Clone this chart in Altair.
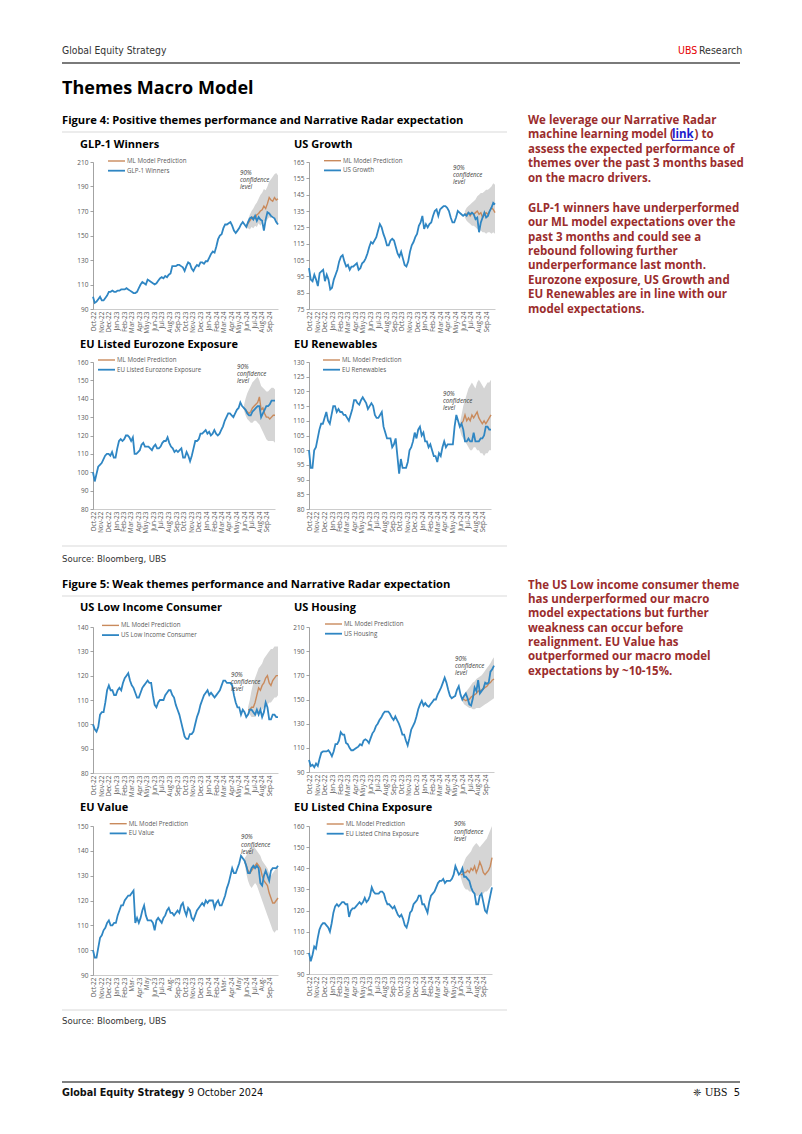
import altair as alt
import pandas as pd

# ---------------- data ----------------
week_start = "2022-09-30"
n_weeks = 106

month_labels = ["Oct-22", "Nov-22", "Dec-22", "Jan-23", "Feb-23", "Mar-23", "Apr-23", "May-23",
                "Jun-23", "Jul-23", "Aug-23", "Sep-23", "Oct-23", "Nov-23", "Dec-23", "Jan-24",
                "Feb-24", "Mar-24", "Apr-24", "May-24", "Jun-24", "Jul-24", "Aug-24", "Sep-24"]
eu_value_labels = ["Oct-22", "Nov-22", "Dec-22", "Jan-23", "Feb-23", "Mar-", "Apr-23", "May",
                   "Jun-23", "Jul-23", "Aug-", "Sep-23", "Oct-23", "Nov-23", "Dec-23", "Jan-24",
                   "Feb-24", "Mar-", "Apr-24", "May", "Jun-24", "Jul-24", "Aug-", "Sep-24"]

glp1_actual = [100, 95, 96, 98, 100, 97, 97, 99, 101, 104, 104, 105, 104, 104, 105, 105, 106, 106, 106, 107,
               106, 105, 104, 103, 103, 104, 107, 110, 112, 111, 110, 114, 113, 112, 111, 110, 111, 113, 115, 116,
               115, 117, 116, 118, 119, 125, 125, 125, 126, 126, 125, 124, 121, 125, 128, 127, 123, 121, 124, 126,
               125, 128, 128, 127, 129, 129, 132, 135, 137, 136, 141, 147, 150, 151, 156, 159, 159, 160, 161, 158,
               154, 152, 154, 156, 159, 161, 159, 157, 161, 164, 165, 163, 166, 162, 165, 163, 162, 154, 163, 169,
               168, 166, 165, 164, 161, 159]
glp1_pred = [157, 160, 162, 164, 165, 164, 167, 168, 170, 171, 174, 172, 176, 181, 179, 178, 181, 179, 180]
glp1_lo = [156, 156, 155, 157, 156, 158, 157, 160, 158, 160, 162, 161, 163, 165, 164, 166, 165, 162, 160]
glp1_hi = [158, 163, 167, 170, 172, 175, 177, 180, 183, 185, 188, 187, 190, 194, 196, 198, 200, 201, 199]
glp1_yticks = [90, 110, 130, 150, 170, 190, 210]

usg_actual = [100, 93, 92, 96, 93, 89, 97, 98, 99, 92, 96, 93, 87, 88, 93, 96, 99, 104, 107, 108,
              104, 101, 102, 99, 101, 101, 102, 103, 99, 100, 103, 104, 106, 109, 113, 116, 115, 117, 119, 123,
              127, 125, 121, 118, 114, 114, 117, 118, 117, 113, 109, 107, 110, 106, 102, 101, 104, 110, 114, 116,
              119, 121, 126, 128, 132, 124, 127, 125, 127, 128, 132, 135, 136, 132, 136, 137, 138, 138, 137, 135,
              131, 128, 128, 131, 135, 134, 133, 132, 133, 132, 134, 133, 134, 133, 130, 131, 122, 128, 131, 134,
              131, 132, 135, 137, 140, 139]
usg_pred = [133, 133, 134, 132, 134, 133, 134, 135, 133, 134, 131, 133, 134, 133, 135, 137, 136, 134]
usg_lo = [131, 129, 128, 127, 126, 126, 125, 124, 123, 123, 122, 122, 121, 122, 122, 121, 122, 121]
usg_hi = [135, 137, 138, 139, 140, 141, 142, 144, 145, 146, 146, 147, 148, 148, 149, 150, 152, 151]
usg_yticks = [75, 85, 95, 105, 115, 125, 135, 145, 155, 165]

ez_actual = [100, 95, 99, 103, 104, 105, 107, 109, 110, 110, 109, 111, 108, 108, 113, 117, 118, 117, 118, 120,
             120, 119, 117, 119, 110, 110, 111, 112, 115, 116, 114, 114, 114, 113, 112, 114, 115, 113, 113, 114,
             116, 117, 117, 119, 116, 114, 113, 111, 112, 111, 112, 113, 108, 108, 111, 109, 106, 109, 113, 117,
             117, 118, 121, 121, 122, 123, 121, 122, 120, 121, 123, 121, 120, 121, 123, 125, 128, 130, 132, 132,
             131, 130, 132, 134, 135, 138, 136, 135, 134, 132, 131, 131, 133, 134, 135, 136, 136, 130, 132, 134,
             136, 136, 137, 139, 139, 139]
ez_pred = [135, 134, 133, 132, 133, 135, 136, 137, 138, 141, 134, 135, 132, 130, 130, 129, 130, 131, 131]
ez_lo = [134, 131, 129, 128, 127, 127, 128, 128, 127, 126, 124, 122, 120, 118, 117, 117, 117, 117, 116]
ez_hi = [136, 140, 143, 145, 147, 149, 150, 151, 152, 150, 147, 146, 145, 144, 144, 145, 146, 146, 145]
ez_yticks = [80, 90, 100, 110, 120, 130, 140, 150, 160]

ren_actual = [100, 94, 94, 100, 101, 104, 107, 109, 109, 111, 113, 110, 109, 112, 115, 115, 113, 114, 113, 113,
              112, 112, 111, 110, 112, 114, 117, 117, 116, 115.5, 117, 118, 117, 116, 114, 115, 116, 115, 112, 111,
              111, 112, 113, 108, 106, 104, 104, 104, 101, 102, 104, 98, 92, 97, 94, 94, 94, 96, 100, 101,
              103, 106, 104, 107, 108, 105, 106, 103, 103, 101, 102, 100, 98, 98, 96, 99, 98, 101, 103, 101,
              102, 102, 102, 102, 108, 112, 110, 108, 109, 107, 103, 103, 104, 103, 103, 106, 103, 103, 103, 104,
              104, 105, 108, 108, 107, 107]
ren_pred = [108, 109, 110, 112, 110, 111, 110, 112, 111, 112, 113, 111, 110, 109, 110, 109, 110, 111, 112]
ren_lo = [107, 105, 104, 103, 102, 101, 100, 100, 101, 101, 100, 100, 99, 99, 98, 99, 99, 100, 100]
ren_hi = [109, 112, 115, 117, 119, 121, 122, 123, 122, 121, 123, 124, 123, 122, 121, 122, 123, 123, 124]
ren_yticks = [80, 85, 90, 95, 100, 105, 110, 115, 120, 125, 130]

lic_actual = [100, 98, 97, 99, 104, 105, 105, 109, 114, 116, 114, 114, 112, 112, 114, 115, 114, 117, 119, 120,
              121, 118, 116, 115, 113, 111, 111, 113, 115, 116, 117, 118, 117, 117, 112, 108, 107, 109, 110, 110,
              110, 112, 113, 114, 114, 112, 111, 108, 106, 104, 101, 98, 95, 94, 94, 96, 96, 97, 100, 103,
              105, 108, 110, 112, 113, 114, 112, 113, 112, 111, 112, 113, 114, 116, 118, 118, 117, 117, 117, 116,
              112, 109, 107, 107, 104, 106, 105, 103, 104, 106, 106, 105, 104, 106, 104, 106, 103, 105, 109, 107,
              102, 102, 104, 104, 103, 103]
lic_pred = [106, 106, 107, 107, 109, 112, 115, 114, 116, 117, 119, 120, 117, 116, 118, 119, 120, 120]
lic_lo = [105, 104, 103, 103, 103, 104, 105, 106, 106, 107, 107, 108, 109, 109, 110, 111, 111, 112]
lic_hi = [107, 110, 114, 117, 119, 121, 123, 124, 125, 127, 128, 129, 130, 131, 131, 132, 132, 132]
lic_yticks = [80, 90, 100, 110, 120, 130, 140]

hou_actual = [100, 95, 96, 94, 97, 95, 101, 106, 107, 107, 107, 108, 106, 103, 107, 113, 113, 116, 123, 121,
              121, 114, 113, 110, 108, 108, 109, 110, 111, 113, 112, 116, 117, 116, 114, 118, 122, 124, 128, 130,
              133, 135, 138, 140, 140, 140, 138, 135, 133, 136, 133, 130, 126, 121, 121, 116, 112, 118, 125, 128,
              131, 136, 142, 146, 149, 145, 147, 145, 144, 146, 148, 150, 150, 154, 157, 160, 164, 168, 164, 158,
              153, 151, 152, 153, 158, 161, 154, 150, 153, 155, 151, 146, 145, 151, 160, 157, 166, 155, 157, 159,
              164, 163, 164, 173, 175, 178]
hou_pred = [150, 150, 149, 150, 150, 152, 153, 154, 155, 157, 157, 158, 159, 160, 161, 163, 164, 166, 167]
hou_lo = [149, 146, 145, 144, 143, 143, 142, 142, 143, 143, 143, 144, 145, 146, 147, 148, 149, 150, 151]
hou_hi = [151, 154, 156, 158, 160, 162, 164, 165, 167, 168, 169, 170, 172, 174, 176, 178, 180, 183, 185]
hou_yticks = [90, 110, 130, 150, 170, 190, 210]

val_actual = [100, 97, 97, 101, 105, 106, 108, 109, 111, 112, 110, 110, 111, 111, 114, 116, 118, 118, 120, 121,
              122, 122, 123, 124, 111, 113, 111, 113, 116, 118, 114, 112, 112, 112, 111, 108, 112, 113, 112, 111,
              113, 114, 116, 117, 115, 115, 114, 115, 116, 115, 118, 119, 116, 114, 117, 116, 113, 112, 114, 116,
              117, 118, 119, 118, 120, 119, 120, 120, 120, 117, 119, 120, 118, 118, 120, 122, 125, 127, 130, 133,
              131, 131, 133, 135, 138, 137, 136, 134, 131, 131, 133, 134, 133, 134, 133, 127, 126, 130, 132, 130,
              128, 132, 133, 133, 133, 134]
val_pred = [136, 134, 132, 131, 132, 133, 134, 135, 134, 133, 130, 128, 127, 126, 123, 121, 119, 119, 120, 121]
val_lo = [135, 131, 128, 126, 125, 126, 127, 126, 124, 122, 120, 118, 116, 114, 112, 110, 108, 107, 108, 108]
val_hi = [137, 138, 140, 141, 141, 142, 141, 140, 139, 138, 136, 135, 134, 133, 131, 130, 131, 132, 133, 134]
val_yticks = [90, 100, 110, 120, 130, 140, 150]

chn_actual = [100, 96, 99, 103, 102, 107, 111, 113, 114, 114, 113, 112, 110, 114, 119, 122, 123, 122, 123, 124,
              124, 123, 123, 117, 120, 121, 121, 122, 123, 124, 123, 124, 126, 124, 125, 127, 131, 129, 128, 128,
              128, 129, 129, 128, 125, 123, 123, 122, 121, 122, 120, 118, 117, 118, 116, 113, 112, 115, 119, 120,
              123, 124, 125, 127, 127, 123, 123, 121, 119, 124, 127, 128, 129, 131, 133, 134, 134, 135, 133, 134,
              134, 134, 135, 137, 141, 139, 137, 138, 140, 136, 136, 135, 134, 131, 129, 128, 123, 123, 127, 128,
              124, 120, 119, 123, 127, 131]
chn_pred = [137, 137, 138, 138, 139, 138, 140, 139, 141, 138, 140, 143, 141, 138, 137, 138, 139, 141, 145]
chn_lo = [136, 133, 131, 130, 130, 129, 129, 129, 128, 127, 127, 128, 128, 128, 129, 129, 130, 131, 132]
chn_hi = [138, 141, 143, 145, 146, 147, 148, 150, 151, 152, 151, 150, 151, 152, 153, 154, 156, 158, 160]
chn_yticks = [90, 100, 110, 120, 130, 140, 150, 160]

pred_name = "ML Model Prediction"
conf_text = ["90%", "confidence", "level"]

# ---------------- styles ----------------
FONT = "Open Sans"
NARROW = "Liberation Sans Narrow, DejaVu Sans Condensed, sans-serif"
BLUE = "#2f86c3"
ORANGE = "#c98a5c"
BAND = "#d5d5d5"
RED_TXT = "#9b2d2d"
AXIS_GRAY = "#8c8c8c"
LABEL_GRAY = "#595959"

dates = [d.strftime("%Y-%m-%dT00:00:00") for d in pd.date_range(week_start, periods=n_weeks, freq="7D")]
month_ticks = [alt.DateTime(year=2022 + (9 + k) // 12, month=(9 + k) % 12 + 1, date=1) for k in range(len(month_labels))]

one = pd.DataFrame({"k": [0]})


def txt(text, x, y, size, color="#000000", weight="normal", font=FONT, align="left", style="normal"):
    return alt.Chart(one).mark_text(text=text, fontSize=size, color=color, fontWeight=weight, font=font,
                                    align=align, baseline="middle", fontStyle=style).encode(
        x=alt.value(x), y=alt.value(y))


def hrule(x1, x2, y, color, width):
    return alt.Chart(one).mark_rule(color=color, strokeWidth=width).encode(
        x=alt.value(x1), x2=alt.value(x2), y=alt.value(y))


def spacer(w, h):
    return alt.Chart(one).mark_text(text=" ", opacity=0, fontSize=1, align="left", baseline="top").encode(
        x=alt.value(1), y=alt.value(1)).properties(width=w, height=h)


PANELS = [
    dict(name="GLP-1 Winners", a=glp1_actual, p=glp1_pred, lo=glp1_lo, hi=glp1_hi, yt=glp1_yticks,
         labels=month_labels, w=185, h=147, leg=(15, -1), ann=(147, 11)),
    dict(name="US Growth", a=usg_actual, p=usg_pred, lo=usg_lo, hi=usg_hi, yt=usg_yticks,
         labels=month_labels, w=186, h=147, leg=(15, -1.3), ann=(144, 5.7)),
    dict(name="EU Listed Eurozone Exposure", a=ez_actual, p=ez_pred, lo=ez_lo, hi=ez_hi, yt=ez_yticks,
         labels=month_labels, w=182, h=147, leg=(5, -2), ann=(144, 4.6)),
    dict(name="EU Renewables", a=ren_actual, p=ren_pred, lo=ren_lo, hi=ren_hi, yt=ren_yticks,
         labels=month_labels, w=182, h=147, leg=(14, -2), ann=(134, 32)),
    dict(name="US Low Income Consumer", a=lic_actual, p=lic_pred, lo=lic_lo, hi=lic_hi, yt=lic_yticks,
         labels=month_labels, w=185, h=146, leg=(9, -1.6), ann=(138, 47.7)),
    dict(name="US Housing", a=hou_actual, p=hou_pred, lo=hou_lo, hi=hou_hi, yt=hou_yticks,
         labels=month_labels, w=185, h=145, leg=(16, -3), ann=(146, 31.7)),
    dict(name="EU Value", a=val_actual, p=val_pred, lo=val_lo, hi=val_hi, yt=val_yticks,
         labels=eu_value_labels, w=185, h=149, leg=(16.7, -2.3), ann=(148, 11.4)),
    dict(name="EU Listed China Exposure", a=chn_actual, p=chn_pred, lo=chn_lo, hi=chn_hi, yt=chn_yticks,
         labels=month_labels, w=183, h=148, leg=(17.7, -2), ann=(145, -1.7)),
]


def make_panel(cfg):
    n = len(cfg["a"])
    s = n - len(cfg["p"])
    df_a = pd.DataFrame({"date": dates, "value": cfg["a"]})
    df_p = pd.DataFrame({"date": dates[s:], "pred": cfg["p"], "lo": cfg["lo"], "hi": cfg["hi"]})
    expr = "%s[month(datum.value) + 12 * (year(datum.value) - 2022) - 9]" % (
        "[" + ",".join("'%s'" % l for l in cfg["labels"]) + "]")
    xaxis = alt.Axis(values=month_ticks, labelExpr=expr, labelAngle=-90, title=None, grid=False,
                     domainColor="#bfbfbf", domainWidth=0.8, ticks=False, labelFontSize=6.5,
                     labelColor=LABEL_GRAY, labelFont=FONT, labelPadding=2, labelOverlap=False,
                     labelFlush=False, labelBound=False)
    yaxis = alt.Axis(values=cfg["yt"], title=None, grid=False, domainColor=AXIS_GRAY, domainWidth=0.8,
                     tickColor=AXIS_GRAY, tickSize=3, tickWidth=0.8, labelFontSize=6.5,
                     labelColor=LABEL_GRAY, labelFont=FONT, labelPadding=2, labelOverlap=False)
    yt = cfg["yt"]
    xenc = alt.X("date:T", scale=alt.Scale(nice=False), axis=xaxis)

    def yenc(f):
        return alt.Y(f + ":Q", scale=alt.Scale(domain=[yt[0], yt[-1]], nice=False, zero=False), axis=yaxis)

    band = alt.Chart(df_p).mark_area(color=BAND, opacity=1).encode(x=xenc, y=yenc("lo"), y2=alt.Y2("hi:Q"))
    pred = alt.Chart(df_p).mark_line(color=ORANGE, strokeWidth=1.4).encode(x=xenc, y=yenc("pred"))
    act = alt.Chart(df_a).mark_line(color=BLUE, strokeWidth=1.8).encode(x=xenc, y=yenc("value"))

    lx, ly = cfg["leg"]
    layers = [band, pred, act,
              hrule(lx, lx + 17, ly, ORANGE, 1.4),
              txt(pred_name, lx + 19, ly, 6.2, LABEL_GRAY),
              hrule(lx, lx + 17, ly + 9.7, BLUE, 1.8),
              txt(cfg["name"], lx + 19, ly + 9.7, 6.2, LABEL_GRAY)]
    ax, ay = cfg["ann"]
    for k, line in enumerate(conf_text):
        layers.append(txt(line, ax, ay + 7.2 * k, 6.2, "#3a3a3a", style="italic"))
    return alt.layer(*layers).properties(width=cfg["w"], height=cfg["h"])


# ---------------- page text (page coordinates minus the 8px margin) ----------------
def X(x):
    return x - 8


def Y(y):
    return y - 8


page = []
page.append(txt("Global Equity Strategy", X(62), Y(51), 10.3, "#333333", font=NARROW))
page.append(txt("UBS", X(678), Y(51), 10.5, "#e60000", font=NARROW))
page.append(txt("Research", X(699), Y(51), 10.5, "#333333", font=NARROW))
page.append(hrule(X(62), X(740), Y(63), "#7a7a7a", 2))
page.append(txt("Themes Macro Model", X(62), Y(89), 18, "#000000", weight="bold"))
page.append(txt("Figure 4: Positive themes performance and Narrative Radar expectation", X(62), Y(121), 11.2,
                "#000000", weight="bold"))
page.append(hrule(X(62), X(507), Y(132), "#d9d9d9", 1))

titles_pos = [(80, 145), (294, 145), (80, 345), (294, 345), (80, 608), (294, 608), (80, 808), (294, 808)]
for cfg, (tx, ty) in zip(PANELS, titles_pos):
    page.append(txt(cfg["name"], X(tx), Y(ty), 11, "#000000", weight="bold"))

page.append(hrule(X(62), X(507), Y(546), "#d9d9d9", 1))
page.append(txt("Source: Bloomberg, UBS", X(62), Y(559), 9.5, "#333333", font=NARROW))
page.append(txt("Figure 5: Weak themes performance and Narrative Radar expectation", X(62), Y(585), 11.2,
                "#000000", weight="bold"))
page.append(hrule(X(62), X(507), Y(596), "#d9d9d9", 1))
page.append(hrule(X(62), X(507), Y(1010), "#d9d9d9", 1))
page.append(txt("Source: Bloomberg, UBS", X(62), Y(1021), 9.5, "#333333", font=NARROW))

page.append(hrule(X(62), X(740), Y(1082), "#555555", 1.5))
page.append(txt("Global Equity Strategy", X(62), Y(1093), 10.7, "#111111", weight="bold", font=NARROW))
page.append(txt("9 October 2024", X(188), Y(1093), 10.7, "#111111", font=NARROW))
page.append(txt("❈", X(693), Y(1093), 10, "#222222", font="DejaVu Sans"))
page.append(txt("UBS", X(705), Y(1093), 11.5, "#111111", font="Liberation Serif"))
page.append(txt("5", X(740), Y(1093), 11, "#111111", font=NARROW, align="right"))

para1 = ["We leverage our Narrative Radar", None, "assess the expected performance of",
         "themes over the past 3 months based", "on the macro drivers."]
para2 = ["GLP-1 winners have underperformed", "our ML model expectations over the",
         "past 3 months and could see a", "rebound following further", "underperformance last month.",
         "Eurozone exposure, US Growth and", "EU Renewables are in line with our", "model expectations."]
para3 = ["The US Low income consumer theme", "has underperformed our macro",
         "model expectations but further", "weakness can occur before", "realignment. EU Value has",
         "outperformed our macro model", "expectations by ~10-15%."]
RS = 11.5
for k, line in enumerate(para1):
    y = 120.7 + 14.45 * k
    if line is None:
        page.append(txt("machine learning model (", X(528), Y(y), RS, RED_TXT, weight="bold"))
        page.append(txt("link", X(672), Y(y), RS, "#1a1acc", weight="bold"))
        page.append(hrule(X(672), X(693), Y(y + 5.2), "#1a1acc", 1))
        page.append(txt(") to", X(694.5), Y(y), RS, RED_TXT, weight="bold"))
    else:
        page.append(txt(line, X(528), Y(y), RS, RED_TXT, weight="bold"))
for k, line in enumerate(para2):
    page.append(txt(line, X(528), Y(208.7 + 14.4 * k), RS, RED_TXT, weight="bold"))
for k, line in enumerate(para3):
    page.append(txt(line, X(528), Y(585.7 + 14.33 * k), RS, RED_TXT, weight="bold"))

canvas = alt.layer(*page).properties(width=85, height=154)

panels = [make_panel(c) for c in PANELS]

# grid: columns = [left margin, left panel, gap, right panel]
COLW = [85, 185, 31, 186]
cells = [canvas, spacer(COLW[1], 1), spacer(COLW[2], 1), spacer(COLW[3], 1)]
row_gaps = [None, 53, 118, 53]
for r in range(4):
    if row_gaps[r] is not None:
        cells += [spacer(COLW[0], row_gaps[r]), spacer(COLW[1], 1), spacer(COLW[2], 1), spacer(COLW[3], 1)]
    cells += [spacer(COLW[0], 1), panels[2 * r], spacer(COLW[2], 1), panels[2 * r + 1]]

chart = alt.concat(*cells, columns=4, spacing=0, bounds="flush", align="each").properties(
    padding=0).configure(background="white").configure_view(strokeWidth=0)

chart.save("out.html", embed_options={"renderer": "svg", "actions": False})
